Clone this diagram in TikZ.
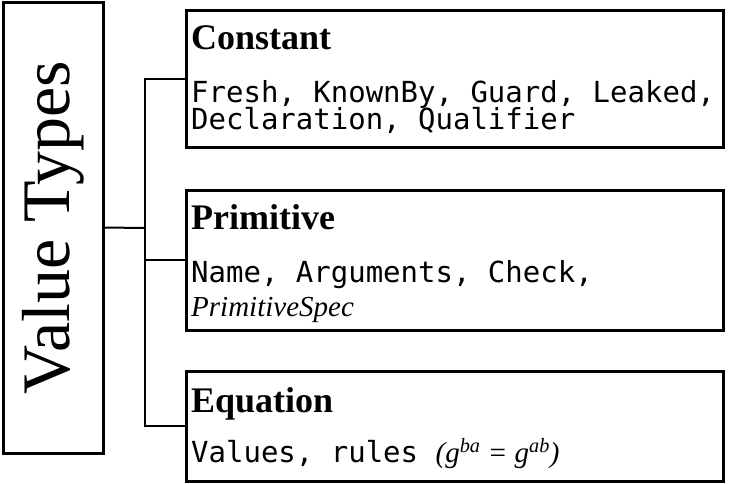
\documentclass[tikz,border=0pt]{standalone}
\usepackage{fontspec}
\setmainfont{Liberation Serif}
\newfontfamily\codefont{DejaVu Sans Mono}
\begin{document}
\begin{tikzpicture}[x=1pt,y=-1pt,
  frame/.style={draw=black, line width=3pt, fill=white, inner sep=0pt},
  link/.style={draw=black, line width=2pt},
  title/.style={anchor=base west, inner sep=0pt, font=\fontsize{36}{36}\selectfont\bfseries},
  body/.style={anchor=base west, inner sep=0pt, font=\fontsize{29}{29}\selectfont\codefont},
  note/.style={anchor=base west, inner sep=0pt, font=\fontsize{29}{29}\selectfont\itshape}]
  \useasboundingbox (0,0) rectangle (730,483);

  % main box on the left
  \node[frame, minimum width=100pt, minimum height=451pt] (vt) at (53,227.5) {};
  \node[rotate=90, inner sep=0pt, font=\fontsize{68}{68}\selectfont] (vtl) at (vt.center) {Value Types};

  % the three kinds
  \node[frame, minimum width=537pt, minimum height=137pt] (c) at (454.5,78.5) {};
  \node[frame, minimum width=537pt, minimum height=140pt] (p) at (454.5,260) {};
  \node[frame, minimum width=537pt, minimum height=110pt] (e) at (454.5,426) {};

  \node[title] (ct) at (191,49) {Constant};
  \node[body] (cb1) at (191,102) {Fresh, KnownBy, Guard, Leaked,};
  \node[body] (cb2) at (191,129) {Declaration, Qualifier};

  \node[title] (pt) at (191,229) {Primitive};
  \node[body] (pb1) at (191,282) {Name, Arguments, Check,};
  \node[note] (pb2) at (191,316) {PrimitiveSpec};

  \node[title] (et) at (191,412) {Equation};
  \node[body] (eb1) at (191,462) {Values, rules {\rmfamily\itshape (g\textsuperscript{ba} = g\textsuperscript{ab})}};

  % tree connectors
  \coordinate (j) at (145,228);
  \draw[link] (vt.east) -- (j);
  \draw[link] (c.west) -| (j) |- (e.west);
  \draw[link] (p.west) -- (p.west -| j);
\end{tikzpicture}
\end{document}
